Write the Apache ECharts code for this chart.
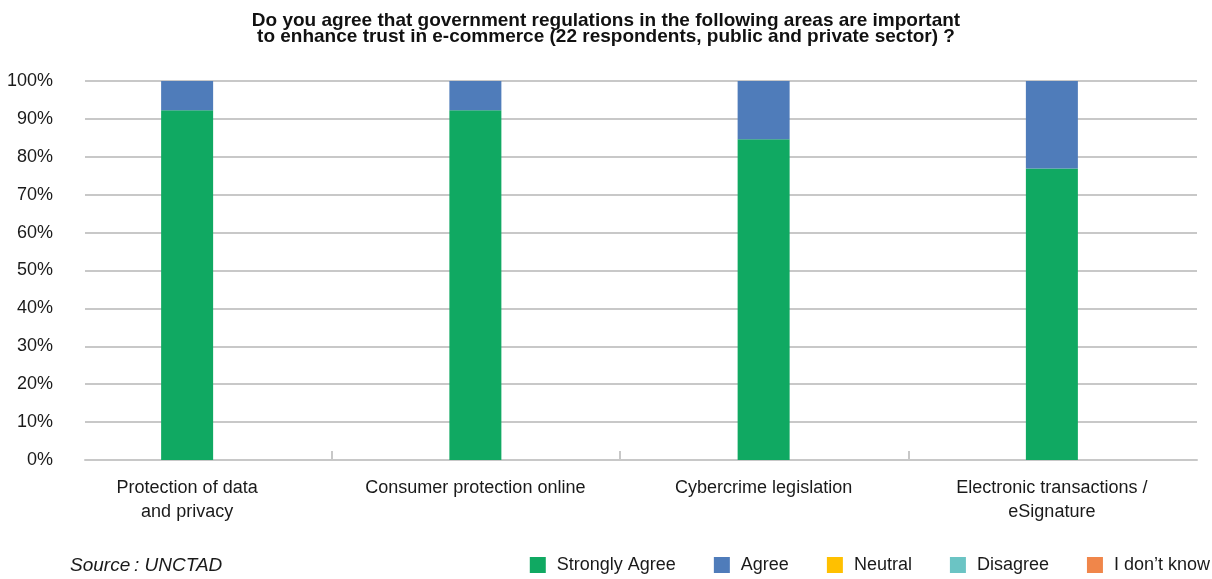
<!DOCTYPE html>
<html>
<head>
<meta charset="utf-8">
<style>
  html, body { margin: 0; padding: 0; background: #ffffff; }
  #chart { width: 1212px; height: 579px; }
</style>
<script src="https://cdn.jsdelivr.net/npm/echarts@6/dist/echarts.min.js"></script>
</head>
<body>
<div id="chart"></div>
<script>
// Survey areas (x axis)
const categories = [
  'Protection of data\nand privacy',
  'Consumer protection online',
  'Cybercrime legislation',
  'Electronic transactions /\neSignature'
];

// Share of respondents per answer, in percent
const stronglyAgree = [92.3, 92.3, 84.6, 76.9];
const agree         = [7.7, 7.7, 15.4, 23.1];
const neutral       = [0, 0, 0, 0];
const disagree      = [0, 0, 0, 0];
const dontKnow      = [0, 0, 0, 0];

const seriesNames  = ['Strongly Agree', 'Agree', 'Neutral', 'Disagree', 'I don\u2019t know'];
const seriesData   = [stronglyAgree, agree, neutral, disagree, dontKnow];
const seriesColors = ['#10a962', '#4f7cba', '#ffc000', '#6bc4c4', '#f0864a'];

const titleText = 'Do you agree that government regulations in the following areas are important\nto enhance trust in e-commerce (22 respondents, public and private sector) ?';
const sourceText = 'Source\u2009: UNCTAD';

// Separators between neighbouring categories
const separators = ['', '', ''];

const baseFont = '"Liberation Sans", Arial, Helvetica, sans-serif';
const textColor = '#1a1a1a';
const gridColor = '#c8c8c8';

const chart = echarts.init(document.getElementById('chart'), null, { renderer: 'canvas' });

chart.setOption({
  animation: false,
  backgroundColor: '#ffffff',
  title: [{
    text: titleText,
    left: 'center',
    top: 13,
    padding: 0,
    textStyle: {
      fontFamily: '"Liberation Sans Narrow", "Liberation Sans", Arial, sans-serif',
      fontWeight: 'bold',
      fontSize: 19,
      lineHeight: 16,
      color: '#111111'
    }
  }, {
    text: sourceText,
    left: 70,
    top: 556,
    padding: 0,
    textStyle: {
      fontFamily: baseFont,
      fontStyle: 'italic',
      fontWeight: 'normal',
      fontSize: 19,
      color: textColor
    }
  }],
  legend: {
    data: seriesNames,
    right: 2,
    top: 556,
    padding: 0,
    icon: 'rect',
    itemWidth: 16,
    itemHeight: 16,
    itemGap: 38,
    textStyle: {
      fontFamily: baseFont,
      fontSize: 18,
      color: textColor,
      padding: [0, 0, 0, 6]
    }
  },
  // grid 0: value scale, gridlines and baseline
  // grid 1: category bands and bars
  // grid 2: separator ticks between categories
  grid: [
    { left: 85, right: 15, top: 81, bottom: 119, containLabel: false },
    { left: 43, right: 16, top: 81, bottom: 119, containLabel: false },
    { left: 331.5, right: 303.5, top: 81, bottom: 119, containLabel: false }
  ],
  xAxis: [{
    type: 'category',
    gridIndex: 0,
    data: categories,
    axisLine: { show: true, lineStyle: { color: gridColor, width: 2 } },
    axisTick: { show: false },
    axisLabel: { show: false }
  }, {
    type: 'category',
    gridIndex: 1,
    data: categories,
    boundaryGap: true,
    axisLine: { show: false },
    axisTick: { show: false },
    axisLabel: {
      margin: 16,
      fontFamily: baseFont,
      fontSize: 18,
      lineHeight: 24,
      color: textColor,
      interval: 0
    }
  }, {
    type: 'category',
    gridIndex: 2,
    data: separators,
    boundaryGap: false,
    axisLine: { show: false },
    axisTick: {
      show: true,
      inside: true,
      length: 9,
      interval: 0,
      lineStyle: { color: gridColor, width: 2 }
    },
    axisLabel: { show: false }
  }],
  yAxis: [{
    type: 'value',
    gridIndex: 0,
    min: 0,
    max: 100,
    interval: 10,
    axisLine: { show: false },
    axisTick: { show: false },
    splitLine: { show: true, lineStyle: { color: gridColor, width: 2 } },
    axisLabel: {
      margin: 32,
      fontFamily: baseFont,
      fontSize: 18,
      color: textColor,
      formatter: '{value}%'
    }
  }, {
    type: 'value',
    gridIndex: 1,
    min: 0,
    max: 100,
    interval: 10,
    show: false,
    splitLine: { show: false }
  }, {
    type: 'value',
    gridIndex: 2,
    min: 0,
    max: 100,
    interval: 10,
    show: false,
    splitLine: { show: false }
  }],
  series: seriesNames.map((name, i) => ({
    name: name,
    type: 'bar',
    xAxisIndex: 1,
    yAxisIndex: 1,
    stack: 'total',
    barWidth: 52,
    data: seriesData[i],
    itemStyle: { color: seriesColors[i] },
    emphasis: { disabled: true }
  }))
});
</script>
</body>
</html>
